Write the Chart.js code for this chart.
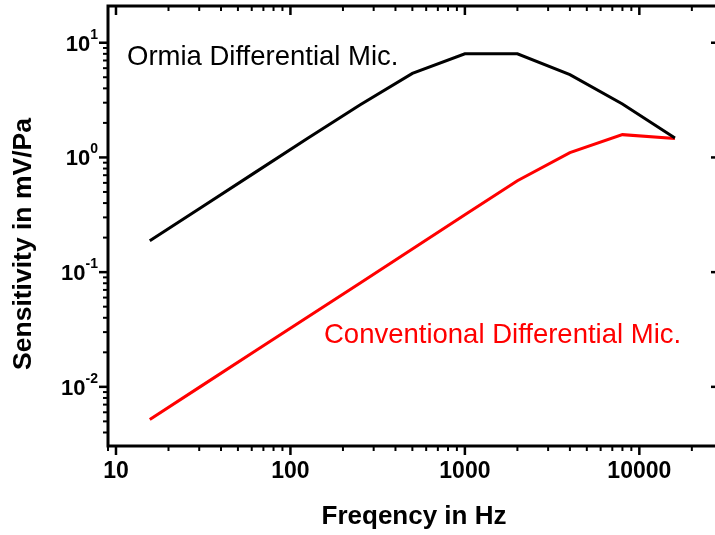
<!DOCTYPE html>
<html>
<head>
<meta charset="utf-8">
<script src="https://cdn.jsdelivr.net/npm/chart.js@4.4.0/dist/chart.umd.min.js"></script>
<style>
html, body { margin: 0; padding: 0; background: #fff; overflow: hidden; }
#wrap { width: 715px; height: 535px; overflow: hidden; }
</style>
</head>
<body>
<div id="wrap"><canvas id="myChart" width="724" height="535"></canvas></div>
<script>
// frequencies in Hz
const freqs = [15.625, 31.25, 62.5, 125, 250, 500, 1000, 2000, 4000, 8000, 16000];
// sensitivity in mV/Pa
const ormia = [0.188, 0.372, 0.737, 1.46, 2.87, 5.4, 8.0, 8.0, 5.26, 2.92, 1.48];
const conventional = [0.0052, 0.0103, 0.0204, 0.0405, 0.080, 0.159, 0.316, 0.626, 1.1, 1.58, 1.46];

const xTickLabels = ['10', '100', '1000', '10000'];
const yTickValues = [10, 1, 0.1, 0.01];
const yTickExps = ['1', '0', '-1', '-2'];

const FONT = "'Liberation Sans', Arial, sans-serif";

// mantissa of a log tick if it is a whole number (1..9), else 0
const mant = v => {
	const e = Math.floor(Math.log10(v) + 1e-9);
	const m = v / Math.pow(10, e);
	return Math.abs(m - Math.round(m)) < 1e-6 ? Math.round(m) : 0;
};

const frameAndTicks = {
	id: 'frameAndTicks',
	afterDraw(chart) {
		const { ctx, chartArea: a, scales: { x, y } } = chart;
		const line = (x1, y1, x2, y2) => {
			ctx.beginPath();
			ctx.moveTo(x1, y1);
			ctx.lineTo(x2, y2);
			ctx.stroke();
		};
		ctx.save();
		ctx.strokeStyle = '#000';

		x.ticks.forEach(t => {
			const m = mant(t.value);
			if (!m) return;
			const px = x.getPixelForValue(t.value);
			if (px < a.left - 1 || px > a.right + 1) return;
			ctx.lineWidth = m === 1 ? 2.5 : 2;
			const len = m === 1 ? 9 : 5;
			line(px, a.bottom, px, a.bottom + len);
			line(px, a.top, px, a.top + len);
		});
		y.ticks.forEach(t => {
			const m = mant(t.value);
			if (!m) return;
			const py = y.getPixelForValue(t.value);
			if (py < a.top + 3 || py > a.bottom + 1) return;
			ctx.lineWidth = m === 1 ? 2.5 : 2;
			const len = m === 1 ? 9 : 5;
			line(a.left, py, a.left - len, py);
			line(a.right, py, a.right - len, py);
		});

		ctx.lineWidth = 3;
		ctx.strokeRect(a.left, a.top, a.right - a.left, a.bottom - a.top);

		// y tick labels with superscript exponents
		ctx.fillStyle = '#000';
		ctx.textBaseline = 'alphabetic';
		ctx.textAlign = 'left';
		yTickValues.forEach((v, i) => {
			const py = y.getPixelForValue(v);
			ctx.font = 'bold 22px ' + FONT;
			const w1 = ctx.measureText('10').width;
			ctx.font = 'bold 14px ' + FONT;
			const w2 = ctx.measureText(yTickExps[i]).width;
			const x0 = 98 - w1 - w2;
			ctx.font = 'bold 22px ' + FONT;
			ctx.fillText('10', x0, py + 8);
			ctx.font = 'bold 14px ' + FONT;
			ctx.fillText(yTickExps[i], x0 + w1, py - 4);
		});

		// y axis title, a bit below the middle as in the original
		ctx.save();
		ctx.translate(24, 244);
		ctx.rotate(-Math.PI / 2);
		ctx.textAlign = 'center';
		ctx.textBaseline = 'middle';
		ctx.font = 'bold 26.5px ' + FONT;
		ctx.fillText('Sensitivity in mV/Pa', 0, 0);
		ctx.restore();

		// curve labels
		ctx.font = '27.5px ' + FONT;
		ctx.fillStyle = '#000';
		ctx.fillText('Ormia Differential Mic.', 127, 65);
		ctx.fillStyle = '#ff0000';
		ctx.fillText('Conventional Differential Mic.', 324, 343);
		ctx.restore();
	}
};

const ctx = document.getElementById('myChart');
const myChart = new Chart(ctx, {
	type: 'line',
	data: {
		datasets: [{
			label: 'Ormia Differential Mic.',
			data: freqs.map((f, i) => ({ x: f, y: ormia[i] })),
			borderColor: '#000',
			borderWidth: 3,
			pointRadius: 0,
			tension: 0
		}, {
			label: 'Conventional Differential Mic.',
			data: freqs.map((f, i) => ({ x: f, y: conventional[i] })),
			borderColor: '#ff0000',
			borderWidth: 3,
			pointRadius: 0,
			tension: 0
		}]
	},
	options: {
		responsive: false,
		animation: false,
		layout: { padding: { top: 6, right: 4, left: 0, bottom: 0 } },
		plugins: { legend: { display: false }, tooltip: { enabled: false } },
		scales: {
			x: {
				type: 'logarithmic',
				min: 9,
				max: 29000,
				grid: { display: false, drawTicks: false },
				border: { display: false },
				ticks: {
					autoSkip: false,
					maxRotation: 0,
					padding: 12,
					color: '#000',
					font: { family: FONT, size: 23, weight: 'bold' },
					callback: v => {
						const s = String(Math.round(v));
						return Math.abs(Math.log10(v) - Math.round(Math.log10(v))) < 1e-9 && xTickLabels.includes(s) ? s : '';
					}
				},
				title: {
					display: true,
					text: 'Freqency in Hz',
					color: '#000',
					font: { family: FONT, size: 26, weight: 'bold' },
					padding: { top: 0, bottom: 3 }
				},
				afterFit: s => {
					s.height = 89;
					s.paddingLeft = 0;
					s.paddingRight = 0;
				}
			},
			y: {
				type: 'logarithmic',
				min: 0.00305,
				max: 20.9,
				grid: { display: false, drawTicks: false },
				border: { display: false },
				ticks: { display: false },
				title: { display: false },
				afterFit: s => {
					s.width = 108;
					s.paddingTop = 0;
					s.paddingBottom = 0;
				}
			}
		}
	},
	plugins: [frameAndTicks]
});
</script>
</body>
</html>
